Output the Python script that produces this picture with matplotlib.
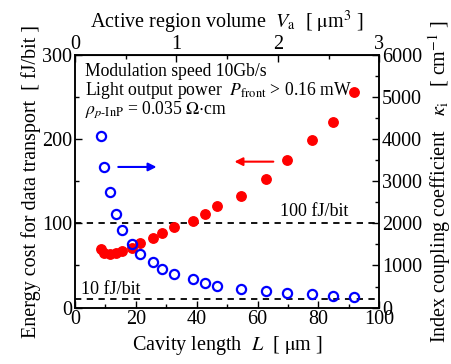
import matplotlib
matplotlib.use("Agg")
import matplotlib.pyplot as plt
from matplotlib.ticker import MultipleLocator

plt.rcParams['font.family'] = ['Liberation Serif', 'DejaVu Serif']
plt.rcParams['mathtext.fontset'] = 'stix'

# Data
cavity_length = [8.5, 9.5, 11.4, 13.6, 15.4, 18.7, 21.4, 25.5, 28.7, 32.6,
                 38.8, 42.6, 46.8, 54.7, 62.8, 69.6, 77.9, 84.8, 91.8]
energy_cost = [69.3, 65.3, 63.8, 65.3, 67.7, 70.5, 76.5, 83.0, 88.3, 95.8,
               103.0, 111.6, 120.7, 132.6, 152.4, 175.4, 199.0, 220.5, 255.7]
kappa = [4076, 3348, 2747, 2232, 1845, 1520, 1275, 1078, 919, 793,
         681, 594, 522, 451, 396, 356, 318, 285, 254]
ref_levels = [100, 10]
volume_per_length = 0.03  # um^3 per um of cavity length

fig = plt.figure(figsize=(4.52, 3.64), dpi=100)
ax = fig.add_axes([0.166, 0.155, 0.673, 0.694])
ax2 = ax.twinx()

# reference dashed lines
for lvl in ref_levels:
    ax.axhline(lvl, color='black', ls=(0, (3.5, 3)), lw=1.3, zorder=1)

ax.plot(cavity_length, energy_cost, 'o', color='#ff0000', ms=6.8, mec='#ff0000', zorder=3)
ax2.plot(cavity_length, kappa, 'o', mfc='none', mec='#0000ff', mew=1.6, ms=6.6, zorder=3)

ax.set_xlim(0, 100)
ax.set_ylim(0, 300)
ax2.set_ylim(0, 6000)

ax.xaxis.set_major_locator(MultipleLocator(20))
ax.xaxis.set_minor_locator(MultipleLocator(10))
ax.yaxis.set_major_locator(MultipleLocator(100))
ax.yaxis.set_minor_locator(MultipleLocator(50))
ax2.yaxis.set_major_locator(MultipleLocator(1000))
ax2.yaxis.set_minor_locator(MultipleLocator(500))

fs = 14.5
for a in (ax, ax2):
    a.tick_params(which='both', direction='in', labelsize=fs, width=1)
    a.tick_params(which='major', length=5)
    a.tick_params(which='minor', length=3)
    for s in a.spines.values():
        s.set_linewidth(1.1)
ax.tick_params(axis='x', pad=2)
ax.tick_params(axis='y', pad=2)
ax2.tick_params(axis='y', pad=2)

secax = ax.secondary_xaxis('top', functions=(lambda x: x * volume_per_length,
                                             lambda v: v / volume_per_length))
secax.xaxis.set_major_locator(MultipleLocator(1))
secax.xaxis.set_minor_locator(MultipleLocator(0.5))
secax.tick_params(which='both', direction='in', labelsize=fs, width=1, pad=1)
secax.tick_params(which='major', length=5)
secax.tick_params(which='minor', length=3)
secax.set_xlabel(r'Active region volume  $V_\mathrm{a}$  [ $\mathrm{\mu}$m$^3$ ]', fontsize=fs, labelpad=5)

ax.set_xlabel(r'Cavity length  $L$  [ $\mathrm{\mu}$m ]', fontsize=fs, labelpad=3)
ax.set_ylabel('Energy cost for data transport  [ fJ/bit ]', fontsize=fs, labelpad=1)
ax2.set_ylabel(r'Index coupling coefficient   $\kappa_\mathrm{i}$   [ cm$^{-1}$ ]', fontsize=fs, labelpad=3)

# annotations
tfs = 12.7
ax.text(3.2, 280, 'Modulation speed 10Gb/s', fontsize=tfs, va='center', ha='left')
ax.text(3.2, 258, r'Light output power  $P_\mathrm{front}$ > 0.16 mW', fontsize=tfs, va='center', ha='left')
ax.text(3.2, 235, r'$\rho_{p\mathrm{\text{-}InP}}$ = 0.035 $\Omega$$\cdot$cm', fontsize=tfs, va='center', ha='left')
ax.text(89.8, 114, '100 fJ/bit', fontsize=13, va='center', ha='right')
ax.text(2.0, 21, '10 fJ/bit', fontsize=13, va='center', ha='left')

ax2.annotate('', xy=(27.7, 3340), xytext=(13.3, 3340),
             arrowprops=dict(arrowstyle='-|>', color='#0000ff', lw=1.5, mutation_scale=12))
ax.annotate('', xy=(51.5, 173.3), xytext=(66.1, 173.3),
            arrowprops=dict(arrowstyle='-|>', color='#ff0000', lw=1.5, mutation_scale=12))

fig.savefig('out.png', dpi=100)
